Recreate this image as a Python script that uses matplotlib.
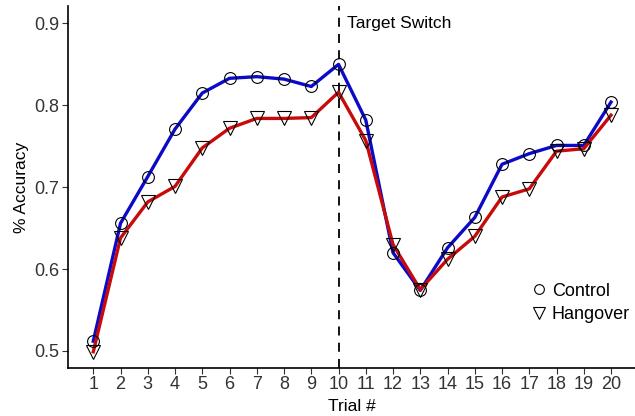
"""Accuracy by trial for control vs hangover groups, with target-switch marker."""
import numpy as np
import matplotlib

matplotlib.use("Agg")  # headless
import matplotlib.pyplot as plt  # noqa: E402
from matplotlib.lines import Line2D  # noqa: E402

plt.rcParams["font.family"] = ["Liberation Sans", "DejaVu Sans"]

trials = np.arange(1, 21)
control = [0.512, 0.656, 0.713, 0.771, 0.815, 0.833, 0.835, 0.832, 0.823, 0.850,
           0.782, 0.620, 0.574, 0.626, 0.663, 0.728, 0.741, 0.751, 0.751, 0.804]
hangover = [0.499, 0.638, 0.682, 0.701, 0.748, 0.772, 0.784, 0.784, 0.785, 0.816,
            0.757, 0.630, 0.575, 0.612, 0.640, 0.688, 0.698, 0.744, 0.747, 0.788]
switch_trial = 10
y_ticks = [0.5, 0.6, 0.7, 0.8, 0.9]

BLUE = "#0a0ac8"
RED = "#c80a0a"
TXT = "#333333"

fig = plt.figure(figsize=(6.35, 4.16), dpi=100)
ax = fig.add_axes([0.107, 0.115, 0.893, 0.87])

ax.plot(trials, control, color=BLUE, lw=2.4, zorder=2)
ax.plot(trials, hangover, color=RED, lw=2.4, zorder=2)
ax.plot(trials, control, ls="none", marker="o", ms=8.5, mfc="none", mec="black",
        mew=0.8, zorder=3)
ax.plot(trials, hangover, ls="none", marker="v", ms=9.5, mfc="none", mec="black",
        mew=0.8, zorder=3)

ax.axvline(switch_trial, color="black", ls=(0, (5, 4)), lw=1.3, zorder=1)
ax.text(switch_trial + 0.3, 0.9, "Target Switch", fontsize=12.5, color="black",
        va="center", ha="left")

ax.set_xlim(0.07, 20.88)
ax.set_ylim(0.479, 0.921)
ax.set_xticks(trials)
ax.set_yticks(y_ticks)
ax.set_yticklabels([f"{v:.1f}" for v in y_ticks])
ax.tick_params(labelsize=13, labelcolor=TXT, color=TXT, length=4, width=0.8, pad=2)
for side in ("top", "right"):
    ax.spines[side].set_visible(False)
for side in ("left", "bottom"):
    ax.spines[side].set_linewidth(1.2)
    ax.spines[side].set_color("black")

ax.set_xlabel("Trial #", fontsize=12.5, labelpad=4)
ax.set_ylabel("% Accuracy", fontsize=12.5, labelpad=4)

handles = [
    Line2D([], [], ls="none", marker="o", ms=7, mfc="none", mec="black", mew=0.8),
    Line2D([], [], ls="none", marker="v", ms=8, mfc="none", mec="black", mew=0.8),
]
ax.legend(handles, ["Control", "Hangover"], loc="lower right",
          bbox_to_anchor=(1.02, 0.08), frameon=False, fontsize=13,
          handletextpad=0.2, labelspacing=0.35, handlelength=1.0)

fig.savefig("out.png", dpi=100)
